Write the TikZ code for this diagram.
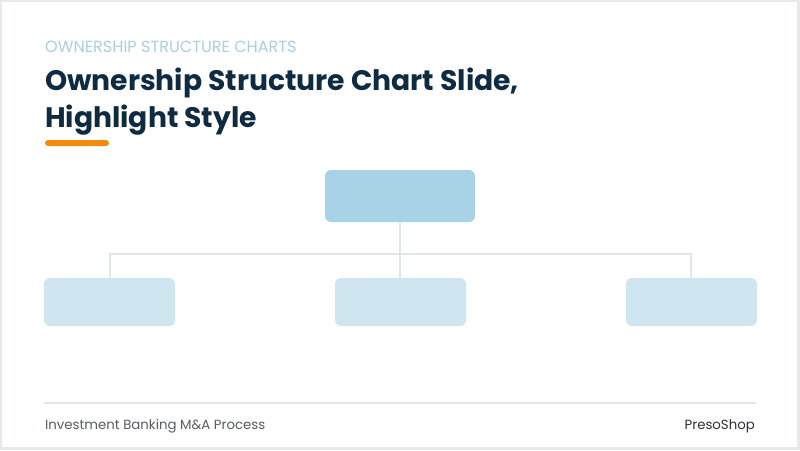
\documentclass[tikz,border=0pt]{standalone}
\usepackage{fontspec}
\setmainfont{Poppins}
\begin{document}
\definecolor{frame}{HTML}{E6EAEE}
\definecolor{navy}{HTML}{0F2B42}
\definecolor{kicker}{HTML}{A9CFE1}
\definecolor{accent}{HTML}{F28C0F}
\definecolor{topfill}{HTML}{A8D2E6}
\definecolor{subfill}{HTML}{CFE5F0}
\definecolor{linegray}{HTML}{E1E6EB}
\definecolor{foot}{HTML}{575D63}
\definecolor{brand}{HTML}{2B3137}
\begin{tikzpicture}[x=1pt,y=1pt,
  topbox/.style={fill=topfill,rounded corners=6pt},
  subbox/.style={fill=subfill,rounded corners=6pt},
  link/.style={draw=linegray,line width=2pt}]
\useasboundingbox (0,0) rectangle (800,-450);
\fill[frame] (0,0) rectangle (800,-450);
\fill[white] (2,-2) rectangle (797,-447);
% header
\node[anchor=base west,inner sep=0,text=kicker,font=\fontsize{16.1}{19}\selectfont] (kick) at (45,-52) {OWNERSHIP STRUCTURE CHARTS};
\node[anchor=base west,inner sep=0,text=navy,font=\fontsize{28.2}{37}\selectfont\bfseries] (t1) at (45,-90) {Ownership Structure Chart Slide,};
\node[anchor=base west,inner sep=0,text=navy,font=\fontsize{28.2}{37}\selectfont\bfseries] (t2) at (45,-127) {Highlight Style};
\fill[accent,rounded corners=3pt] (45,-140) rectangle (109,-146);
% chart
\path[topbox] (325,-170) rectangle (475,-222);
\coordinate (top) at (400,-222);
\coordinate (l) at (109.5,-278);
\coordinate (m) at (400,-278);
\coordinate (r) at (691,-278);
\coordinate (bus) at (400,-254);
\draw[link] (top) -- (m);
\draw[link] (l) |- (bus) -| (r);
\path[subbox] (44,-278) rectangle (175,-326);
\path[subbox] (335,-278) rectangle (466,-326);
\path[subbox] (626,-278) rectangle (757,-326);
% footer
\draw[linegray,line width=2pt] (44,-403) -- (756,-403);
\node[anchor=base west,inner sep=0,text=foot,font=\fontsize{13.3}{16}\selectfont] (f1) at (45,-429) {Investment Banking M\&A Process};
\node[anchor=base east,inner sep=0,text=brand,font=\fontsize{13.3}{16}\selectfont] (f2) at (755,-429) {PresoShop};
\end{tikzpicture}
\end{document}
